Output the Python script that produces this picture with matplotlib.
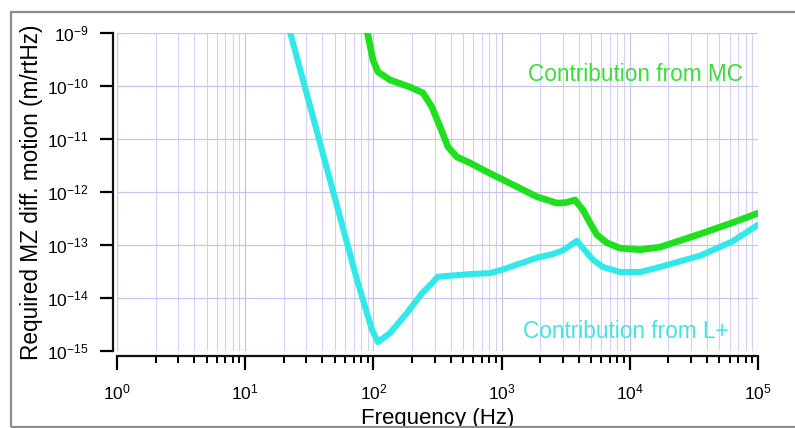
import matplotlib
matplotlib.use("Agg")
import matplotlib.pyplot as plt
from matplotlib.patches import Rectangle
from matplotlib.ticker import LogLocator, NullLocator

plt.rcParams['font.family'] = ['Liberation Sans', 'DejaVu Sans']
plt.rcParams['mathtext.fontset'] = 'custom'
plt.rcParams['mathtext.rm'] = 'Liberation Sans'
plt.rcParams['mathtext.it'] = 'Liberation Sans'
plt.rcParams['mathtext.default'] = 'regular'
plt.rcParams['axes.unicode_minus'] = False

# MC contribution (Hz, m/rtHz)
mc_freq = [88.1, 99.3, 108.6, 134.9, 192.8, 243.8, 286.4, 331.1, 381.9, 448.7,
           566.2, 741.3, 1026, 1888, 2704, 3162, 3741, 4315, 4898, 5546, 6637,
           8395, 12023, 17219, 35481, 63096, 100000]
mc_val = [1.26e-9, 3.09e-10, 1.84e-10, 1.30e-10, 9.55e-11, 7.41e-11, 3.98e-11,
          1.70e-11, 7.08e-12, 4.57e-12, 3.55e-12, 2.51e-12, 1.70e-12, 8.13e-13,
          6.17e-13, 6.31e-13, 7.08e-13, 4.57e-13, 2.60e-13, 1.55e-13, 1.10e-13,
          8.71e-14, 8.13e-14, 9.12e-14, 1.62e-13, 2.63e-13, 3.98e-13]

# L+ contribution (Hz, m/rtHz)
lp_freq = [21.9, 74.5, 97.5, 108.6, 134.9, 182.8, 239.3, 286.4, 316.2, 398.1,
           566.2, 812.8, 1026, 1888, 2512, 3013, 3873, 4315, 5164, 6180, 8395,
           12023, 17219, 35481, 63096, 100000]
lp_val = [1.26e-9, 2.19e-14, 2.51e-15, 1.48e-15, 2.19e-15, 5.25e-15, 1.23e-14,
          1.91e-14, 2.51e-14, 2.63e-14, 2.82e-14, 2.95e-14, 3.47e-14, 5.75e-14,
          6.76e-14, 7.94e-14, 1.20e-13, 8.71e-14, 5.25e-14, 3.85e-14, 3.09e-14,
          3.09e-14, 3.85e-14, 6.31e-14, 1.17e-13, 2.40e-13]

green = '#1fe01f'
cyan = '#33e8e8'

fig = plt.figure(figsize=(7.95, 4.28), dpi=100)
ax = fig.add_axes([117 / 795, 77 / 428, 641 / 795, 318 / 428])

# frame around the whole figure
fig.patches.append(Rectangle((11 / 795, 1 / 428), 1.0, 415 / 428,
                             transform=fig.transFigure, fill=False,
                             edgecolor='#8c8c8c', linewidth=1.6))

ax.plot(mc_freq, mc_val, color=green, linewidth=4.8, solid_joinstyle='round',
        solid_capstyle='round')
ax.plot(lp_freq, lp_val, color=cyan, linewidth=4.4, solid_joinstyle='round',
        solid_capstyle='round')

ax.set_xscale('log')
ax.set_yscale('log')
ax.set_xlim(1, 1e5)
ax.set_ylim(1e-15, 1e-9)

ax.xaxis.set_major_locator(LogLocator(base=10, numticks=10))
ax.xaxis.set_minor_locator(LogLocator(base=10, subs=range(2, 10), numticks=20))
ax.yaxis.set_major_locator(LogLocator(base=10, numticks=10))
ax.yaxis.set_minor_locator(NullLocator())

ax.grid(True, which='major', color='#c6c6ec', linewidth=0.9)
ax.grid(True, which='minor', axis='x', color='#d2d2f0', linewidth=0.8)
ax.set_axisbelow(True)

for side in ['top', 'right']:
    ax.spines[side].set_visible(False)
ax.spines['left'].set_position(('outward', 3))
ax.spines['bottom'].set_position(('outward', 3.7))
for side in ['left', 'bottom']:
    ax.spines[side].set_linewidth(1.6)
    ax.spines[side].set_color('#111111')

ax.tick_params(axis='y', which='major', direction='out', length=9.5, width=1.6,
               pad=8, labelsize=12.5)
ax.tick_params(axis='x', which='major', direction='out', length=10, width=1.6,
               pad=9, labelsize=12.5)
ax.tick_params(axis='x', which='minor', direction='out', length=5, width=1.4)

ax.set_ylabel('Required MZ diff. motion (m/rtHz)', fontsize=16.3, labelpad=3)
ax.set_xlabel('Frequency (Hz)', fontsize=16, labelpad=4)

ax.text(0.641, 0.868, 'Contribution from MC', color='#3cdc3c', fontsize=16.3,
        ha='left', va='center', transform=ax.transAxes)
ax.text(0.634, 0.060, 'Contribution from L+', color='#48e2e2', fontsize=16.3,
        ha='left', va='center', transform=ax.transAxes)

fig.savefig('out.png', dpi=100)
